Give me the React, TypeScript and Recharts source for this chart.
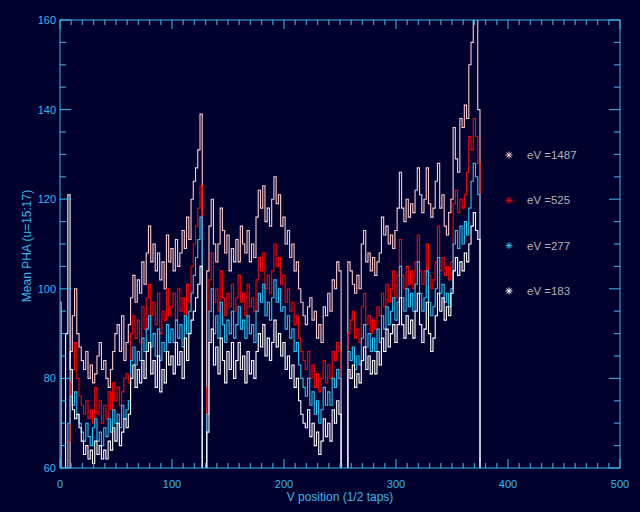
import React from "react";
import { LineChart, Line, XAxis, YAxis, ReferenceLine } from "recharts";

// x positions (1/2 taps), sampled every 2
const xPositions: number[] = Array.from({ length: 190 }, (_, i) => i * 2);

const pink1487: number[] = [
  97, 0, 0, 0, 0, 86, 94, 100, 90, 87,
  84, 82, 86, 80, 83, 79, 81, 85, 88, 82,
  84, 80, 78, 82, 86, 90, 92, 86, 94, 84,
  88, 92, 98, 103, 97, 102, 99, 106, 101, 108,
  114, 106, 110, 104, 108, 102, 106, 100, 112, 106,
  109, 104, 111, 105, 108, 113, 109, 116, 111, 120,
  124, 127, 131, 139, 0, 0, 104, 114, 120, 110,
  106, 110, 118, 113, 108, 112, 104, 109, 106, 111,
  106, 114, 110, 108, 113, 106, 110, 107, 116, 122,
  118, 123, 115, 118, 114, 120, 125, 119, 121, 114,
  116, 110, 113, 107, 110, 104, 106, 100, 97, 94,
  92, 96, 98, 93, 95, 89, 92, 88, 96, 94,
  99, 95, 102, 100, 106, 104, 0, 0, 0, 106,
  104, 101, 99, 103, 100, 110, 113, 106, 108, 104,
  107, 103, 106, 108, 116, 112, 114, 110, 112, 109,
  113, 118, 126, 118, 115, 120, 116, 119, 117, 122,
  127, 121, 117, 120, 127, 119, 116, 118, 124, 128,
  118, 121, 114, 112, 117, 120, 136, 129, 126, 138,
  136, 141, 138, 150, 155, 162, 165, 140, 0, 0,
];

const red525: number[] = [
  0, 0, 0, 0, 66, 79, 82, 88, 80, 76,
  74, 72, 75, 71, 73, 70, 78, 72, 75, 70,
  74, 71, 77, 73, 79, 75, 78, 74, 77, 80,
  81, 79, 90, 94, 89, 93, 88, 96, 91, 98,
  101, 94, 97, 92, 99, 90, 95, 93, 100, 94,
  96, 99, 93, 100, 95, 98, 94, 101, 97, 105,
  110, 114, 118, 123, 0, 0, 78, 102, 108, 97,
  100, 95, 104, 98, 94, 99, 96, 101, 95, 98,
  103, 97, 99, 94, 101, 96, 98, 95, 102, 107,
  104, 108, 100, 103, 99, 104, 110, 105, 107, 101,
  103, 97, 100, 95, 97, 92, 94, 89, 86, 84,
  82, 86, 80, 83, 78, 81, 77, 80, 84, 79,
  83, 80, 86, 84, 88, 86, 0, 0, 0, 90,
  93, 95, 89, 91, 88, 96, 99, 92, 94, 90,
  93, 91, 96, 94, 99, 96, 101, 97, 100, 104,
  98, 103, 111, 103, 100, 105, 101, 104, 100, 106,
  112, 104, 101, 104, 110, 103, 100, 102, 106, 114,
  104, 107, 103, 105, 102, 106, 119, 122, 117, 120,
  118, 121, 126, 134, 131, 138, 134, 128, 0, 0,
];

const blue277: number[] = [
  0, 0, 0, 0, 70, 76, 74, 77, 72, 70,
  68, 66, 70, 67, 65, 69, 71, 66, 68, 65,
  69, 67, 71, 68, 73, 70, 72, 69, 74, 71,
  73, 75, 84, 87, 83, 86, 84, 89, 86, 91,
  94, 87, 90, 85, 91, 84, 88, 86, 92, 88,
  91, 88, 93, 89, 92, 87, 94, 90, 95, 99,
  103, 107, 111, 116, 0, 0, 72, 95, 100, 90,
  94, 89, 97, 92, 88, 93, 90, 95, 89, 92,
  96, 91, 93, 89, 94, 90, 92, 88, 95, 99,
  97, 101, 94, 97, 93, 98, 102, 97, 100, 95,
  96, 91, 94, 89, 91, 86, 88, 83, 80, 78,
  76, 80, 74, 77, 72, 75, 70, 73, 78, 74,
  77, 74, 80, 78, 82, 80, 0, 0, 0, 86,
  84, 87, 82, 85, 83, 89, 92, 87, 90, 86,
  89, 86, 91, 88, 94, 91, 96, 92, 95, 98,
  93, 97, 105, 98, 95, 100, 96, 99, 95, 101,
  106, 99, 95, 98, 104, 97, 94, 96, 100, 107,
  99, 101, 97, 99, 96, 100, 110, 113, 109, 114,
  110, 115, 112, 118, 124, 128, 125, 121, 0, 0,
];

const white183: number[] = [
  0, 0, 0, 90, 121, 82, 73, 71, 72, 69,
  66, 63, 65, 62, 64, 61, 66, 63, 65, 62,
  64, 62, 66, 64, 69, 66, 70, 65, 68, 71,
  69, 72, 80, 83, 78, 82, 79, 84, 80, 86,
  88, 81, 84, 78, 85, 77, 82, 79, 86, 83,
  85, 81, 88, 83, 86, 80, 89, 84, 90, 93,
  95, 98, 101, 105, 0, 0, 68, 88, 91, 83,
  87, 81, 89, 84, 79, 86, 82, 88, 80, 84,
  88, 82, 85, 79, 86, 81, 84, 80, 86, 90,
  87, 92, 85, 89, 84, 88, 93, 87, 90, 85,
  88, 82, 85, 80, 83, 78, 80, 75, 72, 70,
  69, 73, 67, 70, 65, 68, 63, 66, 71, 67,
  70, 66, 73, 70, 75, 72, 0, 0, 0, 82,
  80, 83, 78, 81, 79, 84, 87, 82, 85, 81,
  84, 81, 86, 83, 89, 86, 91, 87, 90, 92,
  88, 92, 98, 92, 89, 94, 90, 93, 89, 95,
  99, 92, 88, 91, 97, 90, 86, 89, 94, 99,
  95, 98, 93, 96, 94, 99, 104, 107, 103, 106,
  104, 108, 106, 110, 114, 117, 113, 111, 0, 0,
];

const xTicks: number[] = [
  0, 10, 20, 30, 40, 50, 60, 70, 80, 90, 100, 110, 120, 130, 140, 150, 160, 170, 180, 190,
  200, 210, 220, 230, 240, 250, 260, 270, 280, 290, 300, 310, 320, 330, 340, 350, 360, 370,
  380, 390, 400, 410, 420, 430, 440, 450, 460, 470, 480, 490, 500,
];
const yTicks: number[] = [
  60, 65, 70, 75, 80, 85, 90, 95, 100, 105, 110, 115, 120, 125, 130, 135, 140, 145, 150, 155, 160,
];

const seriesInfo = [
  { key: "e1487", label: "eV =1487", color: "#ffcaca", values: pink1487 },
  { key: "e525", label: "eV =525", color: "#ff0000", values: red525 },
  { key: "e277", label: "eV =277", color: "#2ec4f6", values: blue277 },
  { key: "e183", label: "eV =183", color: "#ffffff", values: white183 },
];

const data = xPositions.map((x, i) => {
  const row: Record<string, number> = { x };
  seriesInfo.forEach((s) => {
    row[s.key] = s.values[i];
  });
  return row;
});

const BG = "#00002e";
const AXIS = "#3cb8ec";
const FONT = "'Liberation Sans', 'DejaVu Sans', sans-serif";

const W = 640;
const H = 512;
const LEFT = 60;
const RIGHT = 620;
const TOP = 20;
const BOTTOM = 468;

const XTick = (props: any) => {
  const { x, payload } = props;
  const v = payload.value as number;
  const major = v % 100 === 0;
  const len = major ? 9 : 5;
  return (
    <g>
      <line x1={x} x2={x} y1={BOTTOM} y2={BOTTOM - len} stroke={AXIS} strokeWidth={1} />
      <line x1={x} x2={x} y1={TOP} y2={TOP + len} stroke={AXIS} strokeWidth={1} />
      {major && (
        <text x={x} y={488} textAnchor="middle" fill={AXIS} fontSize={11} fontFamily={FONT}>
          {v}
        </text>
      )}
    </g>
  );
};

const YTick = (props: any) => {
  const { y, payload } = props;
  const v = payload.value as number;
  const major = v % 20 === 0;
  const len = major ? 11 : 6;
  return (
    <g>
      <line x1={LEFT} x2={LEFT + len} y1={y} y2={y} stroke={AXIS} strokeWidth={1} />
      <line x1={RIGHT} x2={RIGHT - len} y1={y} y2={y} stroke={AXIS} strokeWidth={1} />
      {major && (
        <text x={56} y={y + 4} textAnchor="end" fill={AXIS} fontSize={11} fontFamily={FONT}>
          {v}
        </text>
      )}
    </g>
  );
};

const Asterisk = ({ cx, cy, color }: { cx: number; cy: number; color: string }) => {
  const r = 3.5;
  const d = 2.5;
  return (
    <g stroke={color} strokeWidth={1}>
      <line x1={cx - r} x2={cx + r} y1={cy} y2={cy} />
      <line x1={cx} x2={cx} y1={cy - r} y2={cy + r} />
      <line x1={cx - d} x2={cx + d} y1={cy - d} y2={cy + d} />
      <line x1={cx - d} x2={cx + d} y1={cy + d} y2={cy - d} />
    </g>
  );
};

export default function App() {
  return (
    <div style={{ position: "absolute", left: 0, top: 0, width: W, height: H, background: BG }}>
      <LineChart
        width={W}
        height={H}
        data={data}
        margin={{ top: TOP, right: W - RIGHT, left: 0, bottom: 0 }}
      >
        <XAxis
          dataKey="x"
          type="number"
          domain={[0, 500]}
          ticks={xTicks}
          interval={0}
          allowDataOverflow
          height={H - BOTTOM}
          tickLine={false}
          axisLine={{ stroke: AXIS }}
          tick={(p: any) => <XTick {...p} />}
        />
        <YAxis
          type="number"
          domain={[60, 160]}
          ticks={yTicks}
          interval={0}
          allowDataOverflow
          width={LEFT}
          tickLine={false}
          axisLine={{ stroke: AXIS }}
          tick={(p: any) => <YTick {...p} />}
        />
        <ReferenceLine y={160} stroke={AXIS} strokeWidth={1} />
        <ReferenceLine x={500} stroke={AXIS} strokeWidth={1} />
        {seriesInfo.map((s) => (
          <Line
            key={s.key}
            dataKey={s.key}
            name={s.label}
            type="step"
            stroke={s.color}
            strokeWidth={1.1}
            dot={false}
            activeDot={false}
            isAnimationActive={false}
          />
        ))}
        <text
          x={340}
          y={501}
          textAnchor="middle"
          fill={AXIS}
          fontSize={12}
          fontFamily={FONT}
        >
          V position (1/2 taps)
        </text>
        <text
          x={31}
          y={246}
          textAnchor="middle"
          fill={AXIS}
          fontSize={12}
          fontFamily={FONT}
          transform="rotate(-90 31 246)"
        >
          Mean PHA (u=15:17)
        </text>
        {seriesInfo.map((s, i) => (
          <g key={"leg" + s.key}>
            <Asterisk cx={509} cy={155 + i * 45.3} color={s.color} />
            <text
              x={527}
              y={159 + i * 45.3}
              fill="#b4b4b4"
              fontSize={11.5}
              fontFamily={FONT}
            >
              {s.label}
            </text>
          </g>
        ))}
      </LineChart>
    </div>
  );
}
